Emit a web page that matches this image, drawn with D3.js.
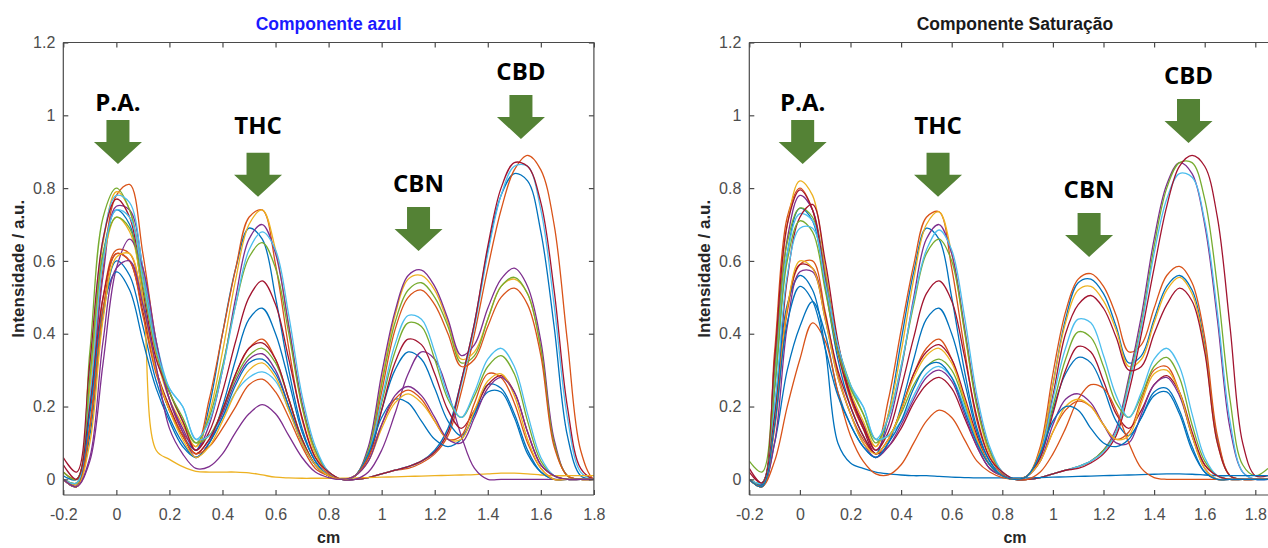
<!DOCTYPE html>
<html>
<head>
<meta charset="utf-8">
<script src="https://cdn.jsdelivr.net/npm/d3@7"></script>
<style>
  html, body { margin: 0; padding: 0; background: #fff; }
  svg { display: block; }
</style>
</head>
<body>
<svg id="chart" width="1268" height="548"></svg>
<script>
// Sampling positions along the plate (cm)
const positions = [-0.2, -0.15, -0.1, -0.05, 0, 0.05, 0.1, 0.15, 0.2, 0.25,
  0.3, 0.35, 0.4, 0.45, 0.5, 0.55, 0.6, 0.65, 0.7, 0.75, 0.8, 0.85,
  0.9, 0.95, 1.0, 1.05, 1.1, 1.15, 1.2, 1.25, 1.3, 1.35, 1.4, 1.45, 1.5, 1.55,
  1.6, 1.65, 1.7, 1.75, 1.8, 1.85];

const xTicks = [-0.2, 0, 0.2, 0.4, 0.6, 0.8, 1, 1.2, 1.4, 1.6, 1.8];
const yTicks = [0, 0.2, 0.4, 0.6, 0.8, 1, 1.2];

const palette = {
  B: "#0072BD", O: "#D95319", Y: "#EDB120", P: "#7E2F8E",
  G: "#77AC30", LB: "#4DBEEE", DR: "#A2142F"
};

// Blue channel profiles
const azulColors = ["B","O","Y","P","G","LB","DR","B","O","Y","P","G","LB","DR","B","O","Y","P"];
const azulSeries = [
  [.01,0,.30,.62,.74,.70,.50,.30,.19,.12, .08,.2,.4,.58,.69,.66,.5,.3,.14,.05,.01,0, 0,.005,.015,.025,.035,.05,.08,.14,.27,.43,.63,.78,.84,.82,.68,.42,.12,.01,0,0],
  [.02,0,.22,.58,.78,.81,.62,.38,.22,.13, .09,.22,.40,.58,.72,.74,.59,.36,.165,.06,.015,0, 0,.005,.015,.025,.03,.045,.07,.12,.24,.4,.58,.74,.85,.89,.85,.70,.38,.08,0,0],
  [0,-.01,.28,.65,.79,.74,.55,.34,.22,.15, .09,.18,.35,.55,.70,.74,.63,.42,.2,.07,.02,0, .01,.08,.27,.45,.55,.56,.52,.43,.33,.35,.44,.53,.55,.51,.36,.1,.01,0,0,0],
  [0,-.015,.2,.56,.75,.74,.58,.36,.22,.14, .08,.15,.3,.5,.66,.70,.62,.42,.21,.08,.02,0, .01,.09,.29,.46,.56,.575,.53,.44,.34,.37,.47,.55,.58,.53,.38,.11,.01,0,0,0],
  [.02,0,.35,.72,.80,.74,.56,.36,.24,.16, .1,.17,.31,.48,.61,.65,.58,.4,.2,.08,.02,0, .01,.08,.26,.43,.52,.54,.5,.42,.32,.34,.44,.53,.555,.51,.36,.1,.01,0,0,0],
  [0,-.01,.3,.66,.78,.76,.58,.38,.25,.2, .11,.16,.3,.48,.63,.68,.63,.45,.23,.09,.02,0, 0,.005,.015,.025,.035,.05,.075,.13,.26,.42,.62,.78,.86,.86,.74,.48,.17,.02,0,0],
  [.06,.02,.32,.66,.77,.72,.52,.33,.24,.16, .08,.13,.24,.38,.5,.545,.48,.33,.17,.06,.02,0, 0,.005,.015,.025,.035,.05,.075,.13,.27,.43,.64,.8,.87,.86,.76,.52,.2,.03,0,0],
  [0,-.02,.12,.45,.6,.56,.42,.27,.17,.1, .06,.1,.2,.33,.44,.47,.4,.27,.13,.05,.01,0, .01,.06,.19,.3,.35,.33,.25,.16,.12,.18,.26,.25,.18,.08,.02,0,0,0,0,0],
  [0,-.02,.15,.5,.63,.62,.48,.3,.19,.12, .07,.11,.19,.29,.36,.385,.33,.22,.11,.04,.01,0, .01,.07,.24,.41,.5,.52,.48,.4,.31,.33,.42,.5,.525,.48,.34,.09,.01,0,0,0],
  [0,-.015,.25,.6,.72,.68,.5,.08,.055,.035, .022,.02,.02,.02,.018,.012,.006,.004,.003,.003,.003,.003, .004,.005,.006,.007,.008,.009,.01,.011,.012,.013,.015,.017,.017,.015,.012,.01,.01,.01,.01,.01],
  [0,-.02,.05,.32,.58,.66,.58,.38,.22,.13, .06,.1,.18,.27,.33,.345,.3,.2,.1,.04,.01,0, 0,.02,.08,.18,.29,.35,.33,.24,.12,.03,0,0,0,0,0,0,0,0,0,0],
  [0,-.01,.28,.62,.72,.69,.53,.35,.24,.17, .1,.12,.19,.28,.34,.36,.32,.22,.11,.04,.01,0, .01,.07,.21,.35,.43,.42,.33,.22,.17,.23,.31,.34,.29,.16,.05,.01,0,0,0,0],
  [0,-.01,.22,.6,.74,.72,.55,.36,.25,.2, .11,.12,.17,.24,.28,.295,.27,.19,.1,.04,.01,0, .01,.07,.22,.37,.45,.44,.35,.23,.17,.24,.33,.36,.31,.18,.06,.01,0,0,0,0],
  [.04,0,.2,.5,.62,.6,.46,.3,.2,.12, .07,.11,.19,.29,.36,.375,.33,.22,.11,.04,.01,0, .01,.06,.19,.32,.385,.37,.29,.19,.14,.19,.26,.285,.24,.13,.04,.01,0,0,0,0],
  [0,-.02,.18,.47,.57,.52,.38,.25,.16,.09, .06,.1,.17,.26,.32,.33,.29,.2,.1,.04,.01,0, .01,.07,.17,.22,.21,.16,.11,.09,.11,.18,.24,.24,.17,.07,.02,0,0,0,0,0],
  [0,-.02,.14,.47,.62,.6,.45,.29,.19,.12, .07,.09,.14,.2,.26,.275,.24,.17,.09,.03,.01,0, .01,.06,.15,.22,.245,.22,.16,.11,.12,.21,.29,.28,.21,.1,.03,0,0,0,0,0],
  [0,-.02,.1,.44,.61,.62,.48,.3,.19,.11, .06,.09,.16,.24,.3,.32,.28,.19,.1,.04,.01,0, .01,.05,.14,.21,.235,.21,.16,.11,.11,.19,.27,.29,.23,.11,.03,0,0,0,0,0],
  [0,-.02,.06,.38,.58,.6,.48,.31,.14,.07, .03,.035,.07,.13,.18,.205,.18,.12,.06,.02,.005,0, .01,.05,.15,.23,.255,.23,.17,.11,.1,.17,.25,.28,.24,.13,.04,.01,0,0,0,0]
];

// Saturation channel profiles
const satColors = ["B","O","Y","P","G","LB","DR","B","O","DR","B","G","LB","DR","P","O","Y","B"];
const satSeries = [
  [0,-.01,.25,.62,.745,.71,.53,.33,.2,.12, .07,.18,.38,.57,.69,.66,.5,.3,.14,.05,.01,0, .01,.08,.26,.44,.54,.55,.51,.42,.32,.34,.44,.53,.56,.52,.37,.11,.01,0,0,0],
  [0,-.015,.35,.72,.80,.74,.55,.35,.22,.14, .09,.22,.41,.59,.72,.735,.58,.36,.16,.06,.015,0, .01,.09,.29,.46,.55,.565,.53,.45,.35,.37,.47,.56,.585,.54,.39,.12,.01,0,0,0],
  [0,-.01,.3,.7,.82,.78,.58,.37,.24,.16, .09,.18,.35,.55,.7,.735,.62,.41,.2,.07,.02,0, .01,.08,.26,.43,.52,.53,.49,.41,.31,.33,.43,.52,.555,.51,.36,.1,.01,0,0,0],
  [0,-.015,.3,.66,.78,.74,.56,.36,.23,.15, .08,.15,.3,.5,.66,.70,.62,.42,.21,.08,.02,0, 0,.005,.015,.025,.035,.05,.08,.14,.28,.45,.66,.81,.87,.84,.7,.44,.14,.02,0,0],
  [.05,.02,.3,.65,.745,.72,.56,.37,.26,.18, .1,.17,.31,.48,.62,.66,.6,.41,.2,.08,.02,0, 0,.005,.015,.025,.035,.05,.08,.13,.27,.43,.64,.8,.87,.87,.77,.53,.22,.04,.01,.03],
  [0,-.01,.26,.62,.73,.71,.55,.37,.25,.2, .11,.17,.31,.49,.63,.685,.63,.45,.23,.09,.02,0, 0,.005,.015,.025,.035,.05,.075,.13,.26,.42,.62,.77,.84,.83,.71,.46,.16,.02,0,0],
  [.02,-.01,.33,.7,.795,.74,.55,.35,.23,.15, .08,.13,.25,.39,.51,.545,.49,.34,.17,.06,.02,0, 0,.005,.015,.025,.03,.045,.07,.12,.24,.4,.58,.75,.86,.89,.86,.72,.42,.1,.01,.01],
  [0,-.02,.1,.3,.42,.488,.40,.24,.15,.09, .06,.1,.2,.33,.44,.47,.4,.27,.13,.05,.01,0, .01,.06,.19,.29,.335,.32,.25,.16,.12,.17,.24,.25,.19,.09,.02,0,0,0,0,0],
  [0,-.02,.14,.46,.59,.6,.46,.29,.18,.11, .07,.11,.19,.29,.36,.385,.33,.22,.11,.04,.01,0, .01,.05,.13,.19,.215,.2,.15,.11,.13,.22,.3,.31,.24,.12,.04,.01,0,0,0,0],
  [0,-.02,.18,.55,.72,.755,.6,.38,.23,.14, .07,.11,.19,.29,.35,.37,.33,.23,.12,.04,.01,0, .01,.07,.23,.4,.48,.505,.47,.39,.3,.31,.4,.48,.525,.49,.35,.1,.01,0,0,0],
  [0,-.015,.2,.48,.56,.52,.36,.1,.045,.03, .02,.015,.012,.01,.01,.008,.006,.005,.004,.004,.004,.004, .004,.005,.006,.007,.008,.009,.01,.011,.012,.013,.014,.015,.015,.014,.012,.01,.01,.01,.01,.01],
  [0,-.01,.25,.6,.71,.68,.52,.35,.25,.18, .11,.12,.18,.26,.31,.33,.3,.21,.1,.04,.01,0, .01,.07,.2,.33,.405,.39,.31,.21,.17,.23,.31,.335,.28,.15,.05,.01,0,0,0,0],
  [0,-.01,.2,.56,.69,.69,.54,.37,.26,.2, .11,.12,.16,.23,.29,.31,.28,.2,.1,.04,.01,0, .01,.07,.22,.36,.44,.43,.34,.23,.17,.24,.33,.36,.31,.18,.06,.01,0,0,0,0],
  [.03,-.01,.17,.47,.59,.58,.45,.3,.2,.12, .07,.09,.14,.21,.26,.28,.25,.17,.09,.03,.01,0, .01,.06,.18,.3,.365,.35,.27,.18,.14,.19,.26,.285,.24,.13,.04,.01,0,0,0,0],
  [0,-.02,.1,.42,.57,.57,.44,.28,.18,.1, .06,.09,.15,.22,.28,.30,.27,.18,.09,.03,.01,0, .01,.05,.15,.22,.235,.21,.15,.1,.1,.18,.26,.28,.23,.12,.03,0,0,0,0,0],
  [0,-.02,.05,.2,.33,.43,.38,.24,.12,.05, .015,.012,.04,.1,.16,.19,.17,.11,.05,.02,.005,0, 0,.02,.07,.14,.22,.26,.25,.19,.1,.03,.005,0,0,0,0,0,0,0,0,0],
  [0,-.02,.15,.47,.6,.58,.44,.28,.18,.1, .07,.11,.19,.28,.34,.36,.32,.22,.11,.04,.01,0, .01,.05,.13,.2,.22,.2,.15,.11,.12,.21,.29,.3,.24,.12,.03,0,0,0,0,0],
  [0,-.02,.15,.43,.53,.49,.36,.23,.15,.09, .06,.1,.16,.25,.31,.32,.28,.19,.1,.04,.01,0, .01,.07,.16,.2,.19,.14,.1,.09,.11,.17,.23,.24,.18,.08,.02,0,0,0,0,0]
];

// Peak annotations: label, arrow tip position (cm, intensity)
const peakLabels = ["P.A.", "THC", "CBN", "CBD"];
const azulPeakX = [0.006, 0.534, 1.139, 1.525];
const azulPeakY = [0.866, 0.776, 0.627, 0.935];
const satPeakX = [0.011, 0.546, 1.143, 1.536];
const satPeakY = [0.866, 0.776, 0.611, 0.924];
// space between each label and the top of its arrow (px)
const labelGap = [9, 19, 15, 15];

const svg = d3.select("#chart");
const axisColor = "#4a4a4a";
const fontAxis = "'Liberation Sans', Arial, Helvetica, sans-serif";

function drawPanel(cfg) {
  const x = d3.scaleLinear().domain([-0.2, 1.8]).range([cfg.left, cfg.left + cfg.unit]);
  const right = x(cfg.xMax);
  const y = d3.scaleLinear().domain([-0.043, 1.2]).range([495, 42.5]);
  const top = y(1.2), bottom = y(-0.043);

  const g = svg.append("g");

  const clipId = "clip-" + cfg.id;
  g.append("clipPath").attr("id", clipId)
    .append("rect").attr("x", cfg.left).attr("y", top)
    .attr("width", right - cfg.left).attr("height", bottom - top);

  const line = d3.line()
    .x((d, i) => x(positions[i]))
    .y(d => y(d))
    .curve(d3.curveCatmullRom.alpha(0.5));

  g.append("g").attr("clip-path", `url(#${clipId})`)
    .selectAll("path").data(cfg.series).join("path")
    .attr("d", d => line(d))
    .attr("fill", "none")
    .attr("stroke", (d, i) => palette[cfg.colors[i]])
    .attr("stroke-width", 1.3)
    .attr("stroke-linejoin", "round");

  const fmt = d => String(Math.round(d * 10) / 10);

  const xb = g.append("g").attr("transform", `translate(0,${bottom})`)
    .call(d3.axisBottom(x).tickValues(xTicks).tickSize(-5).tickSizeOuter(0).tickPadding(14).tickFormat(fmt));
  const xt = g.append("g").attr("transform", `translate(0,${top})`)
    .call(d3.axisTop(x).tickValues(xTicks).tickSize(-5).tickSizeOuter(0).tickFormat(""));
  const yl = g.append("g").attr("transform", `translate(${cfg.left},0)`)
    .call(d3.axisLeft(y).tickValues(yTicks).tickSize(-5).tickSizeOuter(0).tickPadding(8).tickFormat(fmt));
  const yr = g.append("g").attr("transform", `translate(${right},0)`)
    .call(d3.axisRight(y).tickValues(yTicks).tickSize(-5).tickSizeOuter(0).tickFormat(""));

  // domain lines span the full box
  [xb, xt].forEach(a => a.select(".domain").attr("d", `M${cfg.left},0H${right}`));
  [yl, yr].forEach(a => a.select(".domain").attr("d", `M0,${top}V${bottom}`));

  g.selectAll(".domain, .tick line").attr("stroke", axisColor).attr("stroke-width", 1.2);
  g.selectAll(".tick text").attr("fill", "#4d4d4d")
    .style("font-family", fontAxis).style("font-size", "16px");

  const cx = (cfg.left + right) / 2;
  g.append("text").attr("x", cx).attr("y", 30)
    .attr("text-anchor", "middle")
    .style("font-family", fontAxis).style("font-weight", "bold").style("font-size", "17.5px")
    .attr("fill", cfg.titleColor).text(cfg.title);

  g.append("text").attr("x", cx).attr("y", 543)
    .attr("text-anchor", "middle")
    .style("font-family", fontAxis).style("font-weight", "bold").style("font-size", "16px")
    .attr("fill", "#262626").text("cm");

  g.append("text")
    .attr("transform", `translate(${cfg.left - 39},${(top + bottom) / 2}) rotate(-90)`)
    .attr("text-anchor", "middle")
    .style("font-family", fontAxis).style("font-weight", "bold").style("font-size", "17px")
    .attr("fill", "#262626").text("Intensidade / a.u.");

  // peak arrows with their labels
  peakLabels.forEach((lab, i) => {
    const tx = x(cfg.peakX[i]), ty = y(cfg.peakY[i]);
    const shaftW = 11.5, headW = 24, headH = 22, shaftH = 22;
    const p = d3.path();
    p.moveTo(tx, ty);
    p.lineTo(tx - headW, ty - headH);
    p.lineTo(tx - shaftW, ty - headH);
    p.lineTo(tx - shaftW, ty - headH - shaftH);
    p.lineTo(tx + shaftW, ty - headH - shaftH);
    p.lineTo(tx + shaftW, ty - headH);
    p.lineTo(tx + headW, ty - headH);
    p.closePath();
    g.append("path").attr("d", p.toString()).attr("fill", "#548235");
    g.append("text").attr("x", tx).attr("y", ty - headH - shaftH - labelGap[i])
      .attr("text-anchor", "middle")
      .style("font-family", "'Open Sans', Lato, sans-serif").style("font-weight", "bold")
      .style("font-size", "24px").attr("fill", "#000").text(lab);
  });
}

drawPanel({
  id: "azul", left: 63.3, unit: 530.6, xMax: 1.8,
  series: azulSeries, colors: azulColors,
  title: "Componente azul", titleColor: "#1a1aff",
  peakX: azulPeakX, peakY: azulPeakY
});

drawPanel({
  id: "sat", left: 749.3, unit: 506, xMax: 1.9,
  series: satSeries, colors: satColors,
  title: "Componente Saturação", titleColor: "#1a1a1a",
  peakX: satPeakX, peakY: satPeakY
});
</script>
</body>
</html>
